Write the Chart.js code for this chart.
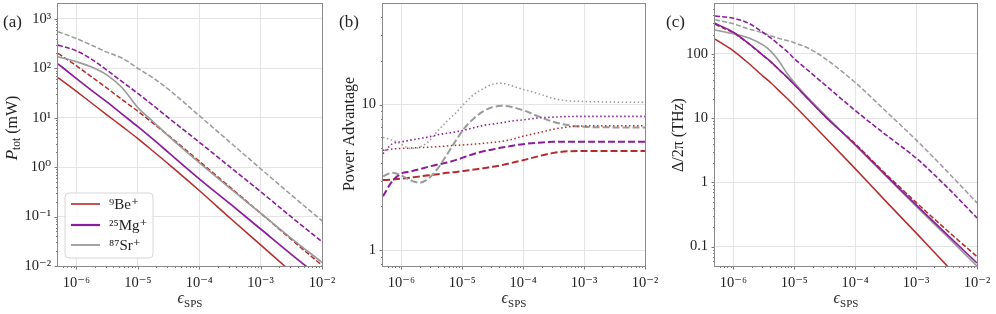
<!DOCTYPE html>
<html><head><meta charset="utf-8">
<script src="https://cdn.jsdelivr.net/npm/chart.js@4.4.1/dist/chart.umd.min.js"></script>
<style>
html,body{margin:0;padding:0;background:#fff;overflow:hidden;width:996px;height:314px;position:relative;}
canvas{display:block;position:absolute;}
</style></head><body>
<canvas id="ca"></canvas><canvas id="cb"></canvas><canvas id="cc"></canvas>
<script>
// ---------- DATA ----------
const xA = [5e-7, 1e-6, 1.8e-6, 3.2e-6, 5.6e-6, 1e-5, 1.8e-5, 3.2e-5, 1e-4, 3.2e-4, 1e-3, 3.2e-3, 1e-2];
const beSolidA = [65, 34, 19.4, 11.2, 6.6, 3.78, 2.07, 1.14, 0.337, 0.0927, 0.0268, 0.00753, 0.0023];
const beDashA  = [200, 112, 66, 39, 23, 13.5, 7.6, 4.3, 1.32, 0.39, 0.117, 0.034, 0.0103];
const mgSolidA = [123, 62, 35, 20.5, 11.7, 6.6, 3.6, 1.95, 0.58, 0.18, 0.056, 0.017, 0.0055];
const mgDashA  = [295, 225, 150, 90, 53, 31, 17.5, 9.8, 3.2, 1.0, 0.32, 0.097, 0.031];
const srSolidA = [172, 135, 105, 72, 40, 16, 8.2, 4.2, 1.23, 0.37, 0.117, 0.036, 0.0118];
const srDashA  = [550, 400, 290, 210, 160, 100, 63, 37, 11, 3.16, 0.93, 0.27, 0.082];

const xB = [5e-7, 7.1e-7, 1e-6, 1.41e-6, 2e-6, 2.82e-6, 3.98e-6, 5.62e-6, 7.94e-6, 1.12e-5, 1.58e-5, 2.24e-5, 3.16e-5, 4.47e-5, 6.31e-5, 1e-4, 1.78e-4, 3.16e-4, 5.62e-4, 1e-3, 3.16e-3, 1e-2];
const beDashB = [3.03, 3.06, 3.1, 3.15, 3.21, 3.27, 3.33, 3.4, 3.45, 3.52, 3.58, 3.66, 3.74, 3.84, 3.97, 4.15, 4.42, 4.66, 4.78, 4.81, 4.81, 4.81];
const mgDashB = [2.35, 2.98, 3.36, 3.47, 3.6, 3.75, 3.88, 4.0, 4.17, 4.38, 4.6, 4.78, 4.92, 5.07, 5.2, 5.35, 5.48, 5.55, 5.56, 5.56, 5.56, 5.56];
const srDashB = [3.22, 3.4, 3.27, 3.02, 2.91, 3.12, 3.65, 4.55, 5.7, 7.0, 8.1, 9.0, 9.6, 9.8, 9.65, 9.14, 8.3, 7.6, 7.2, 7.03, 6.97, 6.95];
const beDotB  = [4.85, 4.95, 5.0, 5.03, 5.07, 5.1, 5.15, 5.2, 5.25, 5.3, 5.35, 5.42, 5.5, 5.6, 5.75, 6.07, 6.4, 6.77, 7.03, 7.14, 7.15, 7.15];
const mgDotB  = [4.6, 5.38, 5.55, 5.7, 5.85, 6.0, 6.2, 6.35, 6.5, 6.7, 6.95, 7.2, 7.35, 7.5, 7.7, 7.85, 8.1, 8.2, 8.28, 8.3, 8.3, 8.3];
const srDotB  = [5.95, 5.7, 5.35, 5.0, 5.1, 5.6, 6.6, 7.7, 8.8, 10.3, 11.8, 12.9, 13.8, 14.0, 13.5, 12.7, 11.9, 11.0, 10.6, 10.5, 10.4, 10.35];

const xC = [5e-7, 1e-6, 1.8e-6, 3.2e-6, 4.2e-6, 5.6e-6, 7.6e-6, 1e-5, 1.8e-5, 3.2e-5, 1e-4, 3.2e-4, 1e-3, 3.2e-3, 1e-2];
const beSolidC = [170, 112, 71, 43.6, 35.1, 26.9, 20.4, 15.8, 8.9, 5.07, 1.64, 0.507, 0.164, 0.0507, 0.0164];
const beDashC  = [290, 212, 143, 92, 74, 57, 43.5, 33.5, 18.8, 10.8, 4.0, 1.35, 0.49, 0.18, 0.07];
const mgSolidC = [300, 218, 145, 92.7, 74.6, 57.4, 43.6, 33.5, 18.7, 10.7, 3.9, 1.29, 0.447, 0.155, 0.0556];
const mgDashC  = [390, 360, 300, 210, 175, 140, 110, 85, 52.5, 33, 13.2, 5.5, 2.4, 0.85, 0.28];
const srSolidC = [237, 206, 178, 135, 108, 78, 50, 36, 19.5, 11.2, 3.8, 1.26, 0.427, 0.145, 0.05];
const srDashC  = [340, 295, 245, 210, 190, 175, 162, 150, 120, 85, 36, 12.8, 4.6, 1.5, 0.48];

const xTickVals = [1e-6, 1e-5, 1e-4, 1e-3, 1e-2];
const xTickText = ['10⁻⁶', '10⁻⁵', '10⁻⁴', '10⁻³', '10⁻²'];
const yTickValsA = [1e-2, 1e-1, 1, 10, 100, 1000];
const yTickTextA = ['10⁻²', '10⁻¹', '10⁰', '10¹', '10²', '10³'];
const yTickValsB = [1, 10];
const yTickTextB = ['1', '10'];
const yTickValsC = [0.1, 1, 10, 100];
const yTickTextC = ['0.1', '1', '10', '100'];
const legendLabels = ['⁹Be⁺', '²⁵Mg⁺', '⁸⁷Sr⁺'];
const panelLabels = ['(a)', '(b)', '(c)'];
const xTitle = ['ϵ', 'SPS'];
const yTitleA = ['P', 'tot', ' (mW)'];
const yTitleB = 'Power Advantage';
const yTitleC = 'Δ/2π (THz)';

// ---------- STYLE ----------
const FONT = "'Liberation Serif','DejaVu Serif',serif";
const RED = '#b52b2b', PURPLE = '#8b1c9c', GRAY = '#9a9a9a';
const DASH = [5, 2.2], LDASH = [7, 3], DOT = [1.5, 2.5];

function ds(xs, ys, color, dash, width) {
  return { data: xs.map((x, i) => ({x: x, y: ys[i]})), borderColor: color, borderWidth: width,
    borderDash: dash, pointRadius: 0, fill: false, cubicInterpolationMode: 'monotone', borderCapStyle: 'butt' };
}
function minorTicks(min, max) {
  const out = [];
  for (let e = -8; e <= 4; e++) for (let k = 2; k <= 9; k++) {
    const v = k * Math.pow(10, e);
    if (v > min * 1.0001 && v < max * 0.9999) out.push(v);
  }
  return out;
}

function makeChart(id, P) {
  const W = (P.R - P.L) + 80 + 30, H = 346, offX = P.L - 80, offY = -16;
  const cv = document.getElementById(id);
  cv.width = W; cv.height = H;
  cv.style.left = offX + 'px'; cv.style.top = offY + 'px';
  cv.style.width = W + 'px'; cv.style.height = H + 'px';
  const X = px => px - offX, Y = py => py - offY;
  const overlay = {
    id: 'ov' + id,
    afterDatasetsDraw(chart) {
      const ctx = chart.ctx, a = chart.chartArea, xs = chart.scales.x, ys = chart.scales.y;
      ctx.save();
      ctx.strokeStyle = '#555'; ctx.lineWidth = 0.8;
      xTickVals.forEach(v => { const p = Math.round(xs.getPixelForValue(v)) + 0.5; ctx.beginPath(); ctx.moveTo(p, a.bottom); ctx.lineTo(p, a.bottom + 3.5); ctx.stroke(); });
      minorTicks(P.xMin, P.xMax).forEach(v => { const p = Math.round(xs.getPixelForValue(v)) + 0.5; ctx.beginPath(); ctx.moveTo(p, a.bottom); ctx.lineTo(p, a.bottom + 2); ctx.stroke(); });
      P.yTicks.forEach(v => { const p = Math.round(ys.getPixelForValue(v)) + 0.5; ctx.beginPath(); ctx.moveTo(a.left, p); ctx.lineTo(a.left - 3.5, p); ctx.stroke(); });
      minorTicks(P.yMin, P.yMax).forEach(v => { const p = Math.round(ys.getPixelForValue(v)) + 0.5; ctx.beginPath(); ctx.moveTo(a.left, p); ctx.lineTo(a.left - 2, p); ctx.stroke(); });
      ctx.strokeStyle = '#8a8a8a'; ctx.lineWidth = 1;
      ctx.strokeRect(a.left - 0.5, a.top - 0.5, a.right - a.left + 1, a.bottom - a.top + 1);
      ctx.fillStyle = '#222'; ctx.textBaseline = 'alphabetic'; ctx.textAlign = 'left';
      ctx.font = '17px ' + FONT;
      ctx.fillText(P.panelLabel, X(P.labelX), Y(27));
      const cxT = (a.left + a.right) / 2;
      ctx.font = 'italic 16px ' + FONT; const w1 = ctx.measureText(xTitle[0]).width;
      ctx.font = '11px ' + FONT; const w2 = ctx.measureText(xTitle[1]).width;
      const sx = cxT - (w1 + w2) / 2;
      ctx.font = 'italic 16px ' + FONT; ctx.fillText(xTitle[0], sx, Y(303));
      ctx.font = '11px ' + FONT; ctx.fillText(xTitle[1], sx + w1, Y(307));
      ctx.save();
      ctx.translate(X(P.yTitleX), Y(P.yTitleY));
      ctx.rotate(-Math.PI / 2);
      P.drawYTitle(ctx);
      ctx.restore();
      if (P.legend) P.legend(ctx, X, Y);
      ctx.restore();
    }
  };
  return new Chart(cv, {
    type: 'line',
    data: { datasets: P.datasets },
    options: {
      responsive: false, devicePixelRatio: 1, animation: false, events: [],
      layout: { padding: { left: 0, right: 30, top: 20, bottom: 0 } },
      plugins: { legend: { display: false }, tooltip: { enabled: false } },
      scales: {
        x: { type: 'logarithmic', position: 'bottom', min: P.xMin, max: P.xMax,
          afterFit: s => { s.height = H - Y(P.B); },
          afterBuildTicks: s => { s.ticks = xTickVals.map(v => ({value: v})); },
          grid: { color: '#e4e4e4', lineWidth: 1, drawTicks: false }, border: { display: false },
          ticks: { autoSkip: false, maxRotation: 0, minRotation: 0, padding: 8, color: '#222',
            font: { family: FONT, size: 14.5 }, callback: (v, i) => xTickText[i] } },
        y: { type: 'logarithmic', position: 'left', min: P.yMin, max: P.yMax,
          afterFit: s => { s.width = 80; },
          afterBuildTicks: s => { s.ticks = P.yTicks.map(v => ({value: v})); },
          grid: { color: '#e4e4e4', lineWidth: 1, drawTicks: false }, border: { display: false },
          ticks: { autoSkip: false, padding: 7, color: '#222',
            font: { family: FONT, size: 14.5 }, callback: (v, i) => P.yText[i] } }
      }
    },
    plugins: [overlay]
  });
}

function centeredRun(ctx, parts) {
  let w = 0;
  parts.forEach(p => { ctx.font = p.f; p.w = ctx.measureText(p.t).width; w += p.w; });
  let x = -w / 2;
  parts.forEach(p => { ctx.font = p.f; ctx.fillText(p.t, x, p.dy); x += p.w; });
}

makeChart('ca', {
  L: 58, R: 322, B: 266, xMin: 5e-7, xMax: 1e-2, yMin: 0.01, yMax: 2000,
  yTicks: yTickValsA, yText: yTickTextA, panelLabel: panelLabels[0], labelX: 3,
  yTitleX: 17, yTitleY: 128,
  drawYTitle: ctx => centeredRun(ctx, [
    {t: yTitleA[0], f: 'italic 17px ' + FONT, dy: 0},
    {t: yTitleA[1], f: '11.5px ' + FONT, dy: 3},
    {t: yTitleA[2], f: '16px ' + FONT, dy: 0}]),
  datasets: [
    ds(xA, srSolidA, GRAY, [], 1.6),
    ds(xA, beDashA, RED, DASH, 1.5),
    ds(xA, mgSolidA, PURPLE, [], 1.7),
    ds(xA, beSolidA, RED, [], 1.5),
    ds(xA, mgDashA, PURPLE, DASH, 1.6),
    ds(xA, srDashA, GRAY, DASH, 1.5)
  ],
  legend: (ctx, X, Y) => {
    const bx = X(65), by = Y(193), bw = 88, bh = 65, r = 4;
    ctx.beginPath();
    ctx.moveTo(bx + r, by); ctx.lineTo(bx + bw - r, by); ctx.arcTo(bx + bw, by, bx + bw, by + r, r);
    ctx.lineTo(bx + bw, by + bh - r); ctx.arcTo(bx + bw, by + bh, bx + bw - r, by + bh, r);
    ctx.lineTo(bx + r, by + bh); ctx.arcTo(bx, by + bh, bx, by + bh - r, r);
    ctx.lineTo(bx, by + r); ctx.arcTo(bx, by, bx + r, by, r); ctx.closePath();
    ctx.fillStyle = 'rgba(255,255,255,0.85)'; ctx.fill();
    ctx.strokeStyle = '#d6d6d6'; ctx.lineWidth = 1; ctx.stroke();
    const cols = [RED, PURPLE, GRAY], ys = [204, 225, 245], lw = [1.6, 2.2, 1.8];
    legendLabels.forEach((t, i) => {
      ctx.strokeStyle = cols[i]; ctx.lineWidth = lw[i]; ctx.setLineDash([]);
      ctx.beginPath(); ctx.moveTo(X(71), Y(ys[i])); ctx.lineTo(X(100), Y(ys[i])); ctx.stroke();
      ctx.fillStyle = '#222'; ctx.font = '15px ' + FONT; ctx.textBaseline = 'middle';
      ctx.fillText(t, X(109), Y(ys[i] + 1));
    });
    ctx.textBaseline = 'alphabetic';
  }
});

makeChart('cb', {
  L: 383, R: 645, B: 266, xMin: 5e-7, xMax: 1e-2, yMin: 0.78, yMax: 49,
  yTicks: yTickValsB, yText: yTickTextB, panelLabel: panelLabels[1], labelX: 339,
  yTitleX: 354, yTitleY: 134,
  drawYTitle: ctx => centeredRun(ctx, [{t: yTitleB, f: '16px ' + FONT, dy: 0}]),
  datasets: [
    ds(xB, srDotB, GRAY, DOT, 1.5),
    ds(xB, mgDotB, PURPLE, DOT, 1.6),
    ds(xB, beDotB, RED, DOT, 1.5),
    ds(xB, srDashB, GRAY, LDASH, 2),
    ds(xB, mgDashB, PURPLE, LDASH, 2),
    ds(xB, beDashB, RED, LDASH, 2)
  ]
});

makeChart('cc', {
  L: 715, R: 977, B: 266, xMin: 5e-7, xMax: 1e-2, yMin: 0.05, yMax: 600,
  yTicks: yTickValsC, yText: yTickTextC, panelLabel: panelLabels[2], labelX: 666,
  yTitleX: 683, yTitleY: 135,
  drawYTitle: ctx => centeredRun(ctx, [{t: yTitleC, f: '16px ' + FONT, dy: 0}]),
  datasets: [
    ds(xC, mgSolidC, PURPLE, [], 1.6),
    ds(xC, srSolidC, GRAY, [], 1.6),
    ds(xC, beDashC, RED, DASH, 1.5),
    ds(xC, beSolidC, RED, [], 1.5),
    ds(xC, mgDashC, PURPLE, DASH, 1.6),
    ds(xC, srDashC, GRAY, DASH, 1.5)
  ]
});
</script>
</body></html>
